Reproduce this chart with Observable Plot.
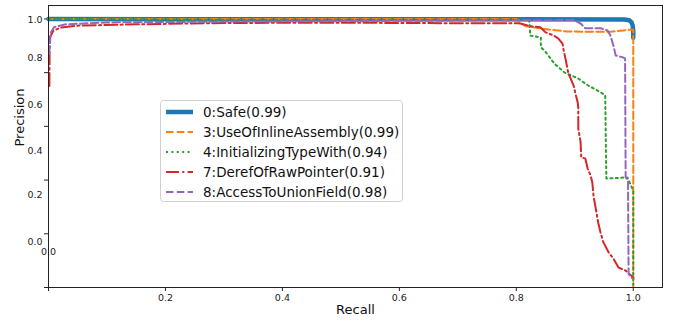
<!DOCTYPE html>
<html><head><meta charset="utf-8">
<script src="https://cdn.jsdelivr.net/npm/d3@7"></script>
<script src="https://cdn.jsdelivr.net/npm/@observablehq/plot@0.6"></script>
<style>
body{margin:0;background:#fff;font-family:"DejaVu Sans",sans-serif;}
#chart{position:relative;width:675px;height:325px;}
#legend{position:absolute;left:160px;top:100px;}
</style></head><body><div id="chart"></div>
<script>
// ---- data ----
const seriesNames = ["0:Safe(0.99)","3:UseOfInlineAssembly(0.99)","4:InitializingTypeWith(0.94)","7:DerefOfRawPointer(0.91)","8:AccessToUnionField(0.98)"];

const safeRecall    = [0, 0.2, 0.5, 0.8, 0.985, 0.993, 0.997, 0.999, 1.0, 1.0];
const safePrecision = [1.0, 0.999, 0.999, 0.999, 0.998, 0.995, 0.988, 0.975, 0.955, 0.93];

const asmRecall    = [0, 0.3, 0.6, 0.80, 0.807, 0.816, 0.84, 0.858, 0.887, 0.961, 0.995, 1.0, 1.0];
const asmPrecision = [1.0, 1.0, 1.0, 1.0, 0.985, 0.973, 0.965, 0.96, 0.953, 0.952, 0.96, 0.96, 0.0];

const initRecall    = [0, 0.3, 0.6, 0.822, 0.824, 0.842, 0.842, 0.848, 0.865, 0.882, 0.906, 0.923, 0.945, 0.952, 0.954, 0.99, 1.0, 1.0];
const initPrecision = [1.0, 0.997, 0.997, 0.997, 0.938, 0.931, 0.894, 0.883, 0.834, 0.801, 0.778, 0.752, 0.726, 0.715, 0.406, 0.41, 0.36, 0.01];

const derefRecall    = [0.0015, 0.002, 0.008, 0.02, 0.05, 0.15, 0.3, 0.5, 0.7, 0.802, 0.807, 0.824, 0.841, 0.850, 0.864, 0.872, 0.879, 0.881, 0.884, 0.887, 0.889, 0.893, 0.898, 0.901, 0.905, 0.906, 0.906, 0.910, 0.911, 0.918, 0.922, 0.927, 0.930, 0.932, 0.935, 0.940, 0.944, 0.949, 0.958, 0.966, 0.975, 0.987, 1.0];
const derefPrecision = [0.75, 0.93, 0.955, 0.968, 0.975, 0.98, 0.985, 0.986, 0.984, 0.984, 0.983, 0.973, 0.969, 0.950, 0.938, 0.927, 0.908, 0.883, 0.853, 0.819, 0.797, 0.778, 0.752, 0.723, 0.689, 0.667, 0.592, 0.540, 0.484, 0.480, 0.443, 0.417, 0.391, 0.342, 0.305, 0.242, 0.205, 0.168, 0.130, 0.108, 0.074, 0.063, 0.037];

const unionRecall    = [0.001, 0.004, 0.01, 0.03, 0.1, 0.3, 0.6, 0.85, 0.898, 0.910, 0.918, 0.944, 0.956, 0.961, 0.966, 0.970, 0.982, 0.986, 0.987, 0.991, 0.992, 1.0];
const unionPrecision = [0.87, 0.95, 0.97, 0.98, 0.987, 0.99, 0.993, 0.995, 0.996, 0.983, 0.965, 0.965, 0.957, 0.938, 0.901, 0.864, 0.857, 0.853, 0.41, 0.40, 0.05, 0.03];

const xTicks = [0, 0.2, 0.4, 0.6, 0.8, 1.0];
const yTicks = [0, 0.2, 0.4, 0.6, 0.8, 1.0];
const yTickLabels = ["1.0", "0.8", "0.6", "0.4", "0.2", "0.0"];
const yTickLabelAt = [0.998, 0.853, 0.681, 0.510, 0.343, 0.168];
const xZeroLabel = [0];

// ---- styles ----
const styles = [
  {color:"#1f77b4", width:4.5, dash:null},
  {color:"#ff7f0e", width:2, dash:"7.5,3.3"},
  {color:"#2ca02c", width:2, dash:"2,3.4"},
  {color:"#d62728", width:2, dash:"13,3.3,2,3.3"},
  {color:"#9467bd", width:2, dash:"7.5,3.3"}
];

const recalls = [safeRecall, asmRecall, initRecall, derefRecall, unionRecall];
const precisions = [safePrecision, asmPrecision, initPrecision, derefPrecision, unionPrecision];
const tables = recalls.map((r, k) => r.map((v, i) => ({recall: v, precision: precisions[k][i]})));

const labelMap = new Map(yTickLabelAt.map((v, i) => [v, yTickLabels[i]]));

const lineMarks = tables.map((t, k) => Plot.line(t, {
  x: "recall", y: "precision",
  stroke: styles[k].color, strokeWidth: styles[k].width,
  strokeDasharray: styles[k].dash, strokeLinejoin: "round"
}));

const chart = Plot.plot({
  width: 675, height: 325,
  marginLeft: 48, marginRight: 13, marginTop: 5, marginBottom: 38,
  x: {domain: [0, 1.05]},
  y: {domain: [0, 1.05]},
  style: {fontFamily: "DejaVu Sans", fontSize: "9.5px", color: "#222", background: "white"},
  marks: [
    Plot.axisX({ticks: xTicks, tickSize: 4, tickPadding: 3, tickFormat: d => d === 0 ? "" : d.toFixed(1), label: null}),
    Plot.axisY({ticks: yTicks, tickSize: 4, tickFormat: () => "", label: null}),
    Plot.axisY({ticks: yTickLabelAt, tickSize: 0, tickPadding: 6, tickFormat: d => labelMap.get(d), label: null}),
    Plot.text(xZeroLabel, {x: d => d, frameAnchor: "bottom", dy: -33, text: d => d.toFixed(1), fontSize: 9.5, fill: "#222"}),
    ...lineMarks,
    Plot.frame({stroke: "#222", strokeWidth: 1}),
    Plot.text(["Recall"], {frameAnchor: "bottom", dy: 26, text: d => d, fontSize: 13, fill: "#111"}),
    Plot.text(["Precision"], {frameAnchor: "left", dx: -29, rotate: -90, text: d => d, fontSize: 13, fill: "#111"})
  ]
});
document.getElementById("chart").appendChild(chart);

// ---- legend (inside the axes, as in the reference) ----
const lw = 243, lh = 102;
const leg = d3.select("#chart").append("svg").attr("id", "legend")
  .attr("width", lw).attr("height", lh);
leg.append("rect").attr("x", 0.5).attr("y", 0.5).attr("width", lw - 1).attr("height", lh - 1)
  .attr("rx", 3).attr("fill", "rgba(255,255,255,0.85)").attr("stroke", "#d0d0d0");
seriesNames.forEach((name, i) => {
  const cy = 12 + i * 20;
  leg.append("line").attr("x1", 6).attr("x2", 33).attr("y1", cy).attr("y2", cy)
    .attr("stroke", styles[i].color).attr("stroke-width", styles[i].width)
    .attr("stroke-dasharray", styles[i].dash);
  leg.append("text").attr("x", 43).attr("y", cy).attr("dy", "0.35em")
    .attr("font-family", "DejaVu Sans").attr("font-size", 13.5).attr("fill", "#111").text(name);
});
</script>
</body></html>
